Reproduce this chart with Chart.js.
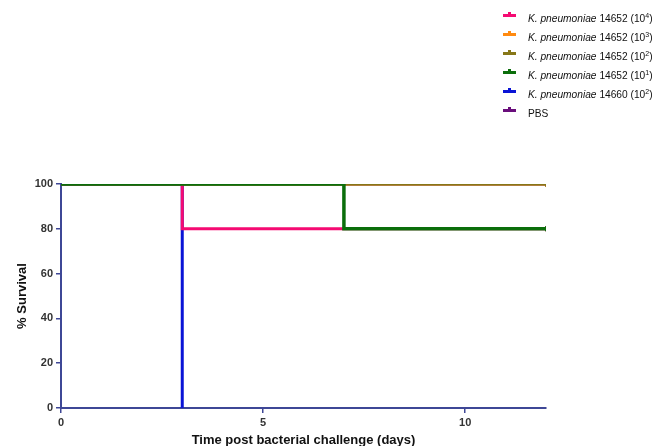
<!DOCTYPE html>
<html><head><meta charset="utf-8">
<script src="https://cdn.jsdelivr.net/npm/chart.js@4.4.0/dist/chart.umd.min.js"></script>
<style>
html,body{margin:0;padding:0;background:#fff;}
#wrap{position:relative;width:670px;height:446px;}
#legend{position:absolute;left:500px;top:9px;font-family:"Liberation Sans",Arial,sans-serif;font-size:10.2px;color:#111;}
.row{position:relative;height:19px;line-height:19px;white-space:nowrap;}
.mk{position:absolute;left:3px;top:5px;width:13px;height:3px;}
.mk:after{content:"";position:absolute;left:5px;top:-2px;width:3px;height:2px;background:inherit;}
.tx{position:absolute;left:28px;top:0;}
sup{font-size:7px;line-height:0;vertical-align:4px;}
</style></head>
<body><div id="wrap"><canvas id="c" width="670" height="446"></canvas><div id="legend"></div></div>
<script>
const seriesNames = ["K. pneumoniae 14652 (10<sup>4</sup>)","K. pneumoniae 14652 (10<sup>3</sup>)","K. pneumoniae 14652 (10<sup>2</sup>)","K. pneumoniae 14652 (10<sup>1</sup>)","K. pneumoniae 14660 (10<sup>2</sup>)","PBS"];
const seriesColors = ["#f50a72","#ff8a10","#877718","#0b6e0b","#0a14d6","#6a0e7c"];
const seriesOrder = [2,4,1,0,3,5];
const days_k4 = [0,3,12];   const surv_k4 = [100,80,80];
const days_k3 = [0,12];     const surv_k3 = [100,100];
const days_k2 = [0,12];     const surv_k2 = [100,100];
const days_k1 = [0,7,12];   const surv_k1 = [100,80,80];
const days_k60 = [0,3];     const surv_k60 = [100,0];
const days_pbs = [0,12];    const surv_pbs = [100,100];
const xTicks = [0,5,10];
const yTicks = [0,20,40,60,80,100];

const allDays=[days_k4,days_k3,days_k2,days_k1,days_k60,days_pbs];
const allSurv=[surv_k4,surv_k3,surv_k2,surv_k1,surv_k60,surv_pbs];

// HTML legend
const lg=document.getElementById('legend');
seriesNames.forEach((n,i)=>{
  const r=document.createElement('div');r.className='row';
  const m=document.createElement('div');m.className='mk';m.style.background=seriesColors[i];
  const t=document.createElement('div');t.className='tx';
  t.innerHTML=n.replace('K. pneumoniae','<i>K. pneumoniae</i>');
  r.appendChild(m);r.appendChild(t);lg.appendChild(r);
});

const font="'Liberation Sans', Arial, sans-serif";
const axisColor="#3e4796";
const datasets=allDays.map((d,i)=>({
  label:seriesNames[i],
  data:d.map((x,j)=>({x:x,y:allSurv[i][j]})),
  borderColor:seriesColors[i],
  backgroundColor:seriesColors[i],
  borderWidth:i===3?3.5:3,
  stepped:true,
  pointRadius:d.map((x,j)=>(j===d.length-1 && x===12)?2.5:0),
  pointStyle:'line',
  rotation:90,
  pointBorderWidth:2,
  order:seriesOrder[i],
  fill:false
}));

new Chart(document.getElementById('c'),{
  type:'line',
  data:{datasets:datasets},
  options:{
    responsive:false,animation:false,
    layout:{padding:{top:184,right:124,left:0,bottom:0}},
    plugins:{legend:{display:false},tooltip:{enabled:false}},
    scales:{
      x:{type:'linear',min:0,max:12,
        afterBuildTicks:s=>{s.ticks=xTicks.map(v=>({value:v}));},
        afterFit:s=>{s.height=38;},
        ticks:{color:'#333',font:{family:font,size:11,weight:'bold'},padding:3},
        grid:{drawOnChartArea:false,drawTicks:true,tickLength:5,color:axisColor,lineWidth:1.5},
        border:{color:axisColor,width:2},
        title:{display:true,text:'Time post bacterial challenge (days)',color:'#111',font:{family:font,size:13,weight:'bold'},padding:{top:0,bottom:-2}}
      },
      y:{type:'linear',min:0,max:100,
        afterBuildTicks:s=>{s.ticks=yTicks.map(v=>({value:v}));},
        afterFit:s=>{s.width=61;},
        ticks:{color:'#333',font:{family:font,size:11,weight:'bold'},padding:3},
        grid:{drawOnChartArea:false,drawTicks:true,tickLength:5,color:axisColor,lineWidth:1.5},
        border:{color:axisColor,width:2},
        title:{display:true,text:'% Survival',color:'#111',font:{family:font,size:13,weight:'bold'},padding:{top:15,bottom:0}}
      }
    }
  }
});
</script></body></html>
